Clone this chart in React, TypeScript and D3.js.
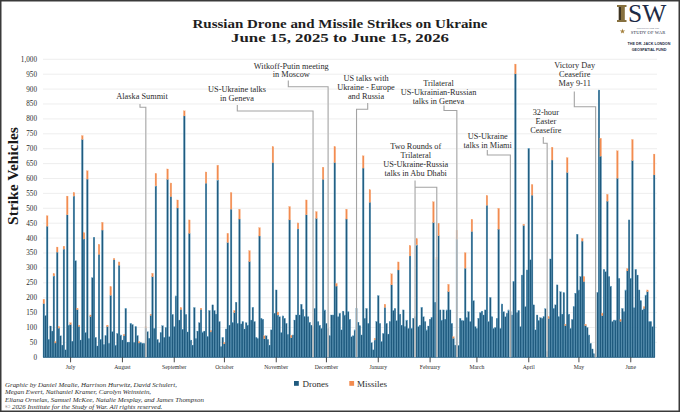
import React from "react";
import * as d3 from "d3";

// ---------- DATA ----------
const startDate = new Date(2025, 5, 15);
const endDate = new Date(2026, 5, 16);

const drones = [
  180,140,440,60,105,88,273,48,353,98,
  72,41,363,25,478,108,110,54,541,324,
  160,103,58,731,397,83,598,63,137,267,
  403,67,38,345,60,427,43,72,103,47,
  208,86,327,41,80,309,75,58,72,164,
  51,51,114,110,50,103,73,48,49,47,
  47,98,86,64,140,270,97,575,60,49,
  83,106,67,100,597,69,539,144,103,206,
  501,125,160,94,810,144,85,416,58,41,
  167,63,88,116,160,85,88,584,69,157,
  85,176,157,145,595,120,36,67,45,95,
  385,108,497,116,150,185,114,464,112,120,
  95,116,108,321,125,168,120,67,63,407,
  131,128,62,72,60,41,92,653,148,226,
  142,136,83,139,131,114,77,461,66,75,
  125,142,431,142,178,161,136,478,136,118,
  108,103,164,466,120,108,97,597,159,114,
  97,72,142,142,653,239,136,148,92,155,
  142,464,153,128,69,72,92,164,118,106,
  75,635,131,164,114,520,49,25,58,120,
  207,114,53,80,167,114,78,120,243,157,
  164,123,293,145,108,159,103,125,97,340,
  97,131,136,377,103,108,168,136,120,92,
  105,128,134,452,185,329,408,159,125,159,
  128,159,220,159,114,64,41,396,40,131,
  123,123,299,133,153,120,422,190,103,97,
  131,150,155,142,159,510,120,201,136,97,
  100,131,430,97,179,153,136,148,159,153,
  142,254,951,150,157,103,276,442,170,293,
  701,327,544,176,92,142,123,133,131,136,
  163,20,130,330,662,164,176,243,136,220,
  145,217,106,620,145,97,127,170,215,413,
  226,271,390,254,106,100,75,47,28,12,
  0,218,897,675,140,295,287,524,271,239,
  120,125,125,601,265,120,164,153,226,290,
  461,265,660,166,295,276,226,190,159,164,
  209,220,120,120,103,612,
];

const missiles = [
  15,0,35,0,0,0,8,5,17,5,
  0,0,10,0,63,0,6,0,12,0,
  5,5,0,13,21,0,28,0,5,0,
  0,0,0,34,0,26,0,0,5,0,
  29,0,5,0,0,11,0,0,5,0,
  0,0,0,0,0,0,0,5,0,0,
  0,5,0,0,5,12,0,42,0,0,
  0,0,0,0,35,0,46,0,0,0,
  27,0,7,0,17,0,0,45,0,0,
  0,0,0,0,5,0,0,38,0,0,
  5,0,0,0,50,0,0,0,5,0,
  31,0,56,0,7,0,0,33,0,0,
  0,0,0,37,0,0,0,0,0,28,
  0,0,10,0,0,0,0,54,0,0,
  10,0,0,0,0,0,0,45,8,0,
  0,0,20,0,0,0,0,50,0,0,
  0,0,0,23,0,0,0,41,0,0,
  0,0,0,0,54,9,0,0,0,0,
  0,33,0,0,0,0,0,0,0,0,
  0,41,0,0,0,42,0,0,6,0,
  0,0,0,0,11,0,0,0,37,0,
  0,0,27,0,0,0,0,0,0,35,
  0,0,0,21,0,0,0,0,0,0,
  0,0,0,70,0,7,42,0,0,0,
  0,0,25,0,0,5,0,31,0,0,
  0,0,52,0,0,0,41,0,0,0,
  0,0,0,0,0,33,0,0,0,0,
  0,0,70,0,0,0,0,0,0,0,
  0,0,33,0,0,0,0,5,0,0,
  0,0,36,0,0,0,0,0,0,0,
  0,0,6,0,43,0,0,0,0,0,
  0,0,5,50,0,0,0,0,0,0,
  0,0,9,17,5,0,0,0,0,0,
  0,0,0,60,8,0,0,23,0,0,
  0,0,0,92,0,6,0,0,0,8,
  0,0,71,0,0,0,0,0,0,6,
  0,6,0,0,0,70,
];

const yTickValues = [0,50,100,150,200,250,300,350,400,450,500,550,600,650,700,750,800,850,900,950,1000];
const monthLabels = ["July","August","September","October","November","December","January","February","March","April","May","June"];

const annotations = [
  { lines: ["Alaska Summit"], dates: ["2025-08-15"] },
  { lines: ["US-Ukraine talks", "in Geneva"], dates: ["2025-11-23"] },
  { lines: ["Witkoff-Putin meeting", "in Moscow"], dates: ["2025-12-02"] },
  { lines: ["US talks with", "Ukraine - Europe", "and Russia"], dates: ["2025-12-19"] },
  { lines: ["Trilateral", "US-Ukrainian-Russian", "talks in Geneva"], dates: ["2026-02-17"] },
  { lines: ["Two Rounds of", "Trilateral", "US-Ukraine-Russia", "talks in Abu Dhabi"], dates: ["2026-01-23", "2026-02-05"] },
  { lines: ["US-Ukraine", "talks in Miami"], dates: ["2026-03-21"] },
  { lines: ["32-hour", "Easter", "Ceasefire"], dates: ["2026-04-12"] },
  { lines: ["Victory Day", "Ceasefire", "May 9-11"], dates: ["2026-05-11"] },
];

const titleLines = ["Russian Drone and Missile Strikes on Ukraine", "June 15, 2025 to June 15, 2026"];
const creditLines = [
  "Graphic by Daniel Mealie, Harrison Hurwitz, David Schulert,",
  "Megan Ewert, Nathaniel Kramer, Carolyn Weinstein,",
  "Eliana Ornelas, Samuel McKee, Natalie Mesplay, and James Thompson",
  "\u00a9 2026 Institute for the Study of War. All rights reserved.",
];
const seriesNames = ["Drones", "Missiles"];
const logoTexts = ["SW", "INSTITUTE FOR THE", "STUDY OF WAR", "THE DR. JACK LONDON", "GEOSPATIAL FUND"];

// ---------- LAYOUT ----------
const W = 680, H = 412;
const PLOT = { left: 43, right: 655, top: 59.3, bottom: 357.3 };
const titleLayout = [
  { y: 27.6, size: 12.8, width: 295 },
  { y: 42.1, size: 12.8, width: 218 },
];
const annotationLayout = [
  { x: 142, y: 98.8, tickX: 140, tickTop: 104, elbowY: 107.3 },
  { x: 237, y: 92, tickX: 237.3, tickTop: 105, elbowY: 111 },
  { x: 291.3, y: 68.5, tickX: 288.3, tickTop: 80.5, elbowY: 86.7 },
  { x: 366, y: 81, tickX: 367.7, tickTop: 103, elbowY: 109.3 },
  { x: 438.5, y: 86, tickX: 444, tickTop: 105.5, elbowY: 110.5 },
  { x: 415.7, y: 149.4, tickX: 415, tickTop: 180.5, elbowY: 187.3 },
  { x: 487.7, y: 138.7, tickX: 487.3, tickTop: 150, elbowY: 155 },
  { x: 545.8, y: 115, tickX: 543.3, tickTop: 137, elbowY: 143.3 },
  { x: 574.7, y: 68.4, tickX: 574.3, tickTop: 91.5, elbowY: 106.7 },
];
const COLORS = {
  drone: "#1f5a7e",
  droneStroke: "#5f9fc4",
  missile: "#f28b4f",
  grid: "#e7e7e7",
  text: "#2b2b2b",
  connector: "#a3a3a3",
  navy: "#1d2b45",
  bronze: "#86703f",
};
const SERIF = "'Liberation Serif', 'DejaVu Serif', serif";
const SANS = "'Liberation Sans', 'DejaVu Sans', sans-serif";

const fmtKey = d3.timeFormat("%Y-%m-%d");
const parseKey = d3.timeParse("%Y-%m-%d");

export default function App() {
  const days = d3.timeDay.range(startDate, endDate);
  const keys = days.map(fmtKey);

  const x = d3.scaleBand<string>().domain(keys).range([PLOT.left, PLOT.right]).padding(0);
  const y = d3.scaleLinear().domain([0, 1000]).range([PLOT.bottom, PLOT.top]);
  const bw = x.bandwidth();
  const cx = (k: string) => (x(k) ?? 0) + bw / 2;

  const months = d3.timeMonth.range(new Date(2025, 6, 1), endDate);
  const fmtNum = d3.format(",");
  const star = d3.symbol().type(d3.symbolStar).size(9)() ?? "";

  return (
    <div style={{ position: "absolute", left: 0, top: 0 }}>
      <svg width={W} height={H} viewBox={`0 0 ${W} ${H}`} style={{ display: "block", background: "#fff" }}>
        <rect x={0} y={0} width={W} height={H} fill="#fff" />

        {/* Title */}
        {titleLines.map((t, i) => (
          <text
            key={i}
            x={340}
            y={titleLayout[i].y}
            textAnchor="middle"
            fontFamily={SERIF}
            fontWeight="bold"
            fontSize={titleLayout[i].size}
            textLength={titleLayout[i].width}
            lengthAdjust="spacingAndGlyphs"
            fill="#1e1e1e"
          >
            {t}
          </text>
        ))}

        {/* Logo */}
        <g>
          <rect x={617} y={5} width={9.5} height={2} fill={COLORS.bronze} />
          <rect x={618.8} y={7} width={6} height={13} fill={COLORS.bronze} />
          <rect x={618.8} y={7} width={2.2} height={13} fill="#3d3423" />
          <rect x={617} y={20} width={9.5} height={2} fill={COLORS.bronze} />
          <text x={628} y={22} fontFamily={SERIF} fontSize={25.5} fill={COLORS.navy}>{logoTexts[0]}</text>
          <path d={star} transform="translate(622.5,31.3)" fill="#a4803c" />
          <text x={648} y={28.6} textAnchor="middle" fontFamily={SERIF} fontSize={2.4} fill={COLORS.navy}>{logoTexts[1]}</text>
          <text x={648} y={33.8} textAnchor="middle" fontFamily={SERIF} fontSize={4.6} fill={COLORS.navy} letterSpacing={0.1}>{logoTexts[2]}</text>
          <text x={649} y={44.5} textAnchor="middle" fontFamily={SANS} fontWeight="bold" fontSize={3.7} fill={COLORS.navy}>{logoTexts[3]}</text>
          <text x={649} y={50.5} textAnchor="middle" fontFamily={SANS} fontWeight="bold" fontSize={3.7} fill={COLORS.navy}>{logoTexts[4]}</text>
        </g>

        {/* Gridlines & Y ticks */}
        {yTickValues.map((v) => (
          <g key={v}>
            {v > 0 && (
              <line x1={PLOT.left} x2={PLOT.right + 2} y1={y(v)} y2={y(v)} stroke={COLORS.grid} strokeWidth={0.7} />
            )}
            <text x={37} y={y(v) + 2.4} textAnchor="end" fontFamily={SERIF} fontSize={7.2} fill={COLORS.text}>
              {fmtNum(v)}
            </text>
          </g>
        ))}

        {/* Y axis title */}
        <text
          transform={`translate(18, 176) rotate(-90)`}
          textAnchor="middle"
          fontFamily={SERIF}
          fontWeight="bold"
          fontSize={15.5}
          fill="#1a1a1a"
        >
          Strike Vehicles
        </text>

        {/* Bars */}
        <g>
          {keys.map((k, i) => {
            const d = drones[i];
            const m = missiles[i];
            const x0 = x(k) ?? 0;
            return (
              <g key={k}>
                {d > 0 && (
                  <rect x={x0} y={y(d)} width={bw} height={y(0) - y(d)} fill={COLORS.drone} stroke={COLORS.droneStroke} strokeWidth={0.3} />
                )}
                {m > 0 && (
                  <rect x={x0} y={y(d + m)} width={bw} height={y(d) - y(d + m)} fill={COLORS.missile} stroke="#f6a673" strokeWidth={0.25} />
                )}
              </g>
            );
          })}
        </g>
        <line x1={PLOT.left} x2={PLOT.right} y1={PLOT.bottom} y2={PLOT.bottom} stroke={COLORS.drone} strokeWidth={0.8} />

        {/* Month ticks */}
        {months.map((mo, i) => {
          const xx = cx(fmtKey(mo));
          return (
            <g key={i}>
              <line x1={xx} x2={xx} y1={PLOT.bottom} y2={PLOT.bottom + 5} stroke="#333" strokeWidth={0.9} />
              <text x={xx} y={369.3} textAnchor="middle" fontFamily={SERIF} fontSize={5.7} fill={COLORS.text}>
                {monthLabels[i]}
              </text>
            </g>
          );
        })}

        {/* Annotations */}
        {annotations.map((a, i) => {
          const L = annotationLayout[i];
          const xs = a.dates.map((s) => cx(fmtKey(parseKey(s) as Date)));
          let path = "";
          if (xs.length === 1) {
            path = `M${L.tickX},${L.tickTop}V${L.elbowY}H${xs[0]}V${PLOT.bottom}`;
          } else {
            path = `M${xs[0]},${L.tickTop}V${PLOT.bottom}M${xs[0]},${L.elbowY}H${xs[1]}V${PLOT.bottom}`;
          }
          return (
            <g key={i}>
              <path d={path} fill="none" stroke="#ffffff" strokeOpacity={0.7} strokeWidth={2} />
              <path d={path} fill="none" stroke={COLORS.connector} strokeWidth={1.1} />
              {a.lines.map((ln, j) => (
                <text key={j} x={L.x} y={L.y + j * 8.8} textAnchor="middle" fontFamily={SERIF} fontSize={8.3} fill={COLORS.text}>
                  {ln}
                </text>
              ))}
            </g>
          );
        })}

        {/* Legend */}
        <g>
          <rect x={294} y={381} width={4.8} height={4.8} fill={COLORS.drone} />
          <text x={302.5} y={387} fontFamily={SERIF} fontSize={9} fill={COLORS.text}>{seriesNames[0]}</text>
          <rect x={349.3} y={381} width={4.8} height={4.8} fill={COLORS.missile} />
          <text x={357} y={387} fontFamily={SERIF} fontSize={9} fill={COLORS.text}>{seriesNames[1]}</text>
        </g>

        {/* Credits */}
        {creditLines.map((t, i) => (
          <text key={i} x={5} y={386.5 + i * 7.6} fontFamily={SERIF} fontStyle="italic" fontSize={6.9} fill={COLORS.text}>
            {t}
          </text>
        ))}

        {/* Frame */}
        <rect x={0.75} y={0.75} width={W - 1.5} height={H - 1.5} fill="none" stroke="#3a3a3a" strokeWidth={1.5} />
      </svg>
    </div>
  );
}
